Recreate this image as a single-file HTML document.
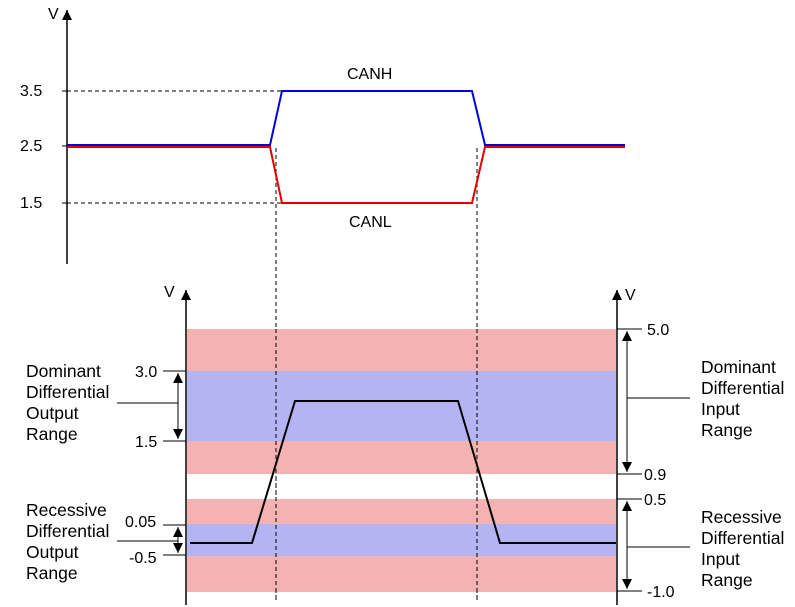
<!DOCTYPE html>
<html><head><style>body{margin:0;background:#fff}svg{display:block}</style></head><body>
<svg width="795" height="607" viewBox="0 0 795 607" xmlns="http://www.w3.org/2000/svg" font-family="Liberation Sans, sans-serif" font-size="16">
<defs>
<marker id="a" markerWidth="10" markerHeight="10" refX="10" refY="5" orient="auto-start-reverse" markerUnits="userSpaceOnUse" viewBox="0 0 10 10"><path d="M0,0 L10,5 L0,10 z" fill="#000"/></marker>
</defs>
<line x1="67" y1="264" x2="67" y2="10" stroke="#000" stroke-width="1.5" marker-end="url(#a)"/>
<text x="48" y="19">V</text>
<g stroke="#000" stroke-dasharray="4,3" stroke-width="1">
<line x1="67" y1="91" x2="282" y2="91"/>
<line x1="67" y1="203" x2="282" y2="203"/>
<line x1="276" y1="148" x2="276" y2="602"/>
<line x1="477" y1="148" x2="477" y2="602"/>
</g>
<g stroke="#000"><line x1="62" y1="91" x2="67" y2="91"/><line x1="62" y1="146" x2="67" y2="146"/><line x1="62" y1="203" x2="67" y2="203"/></g>
<text x="20" y="96">3.5</text><text x="20" y="151">2.5</text><text x="20" y="208">1.5</text>
<polyline points="67,147 270,147 282,203 472,203 485,147 625,147" fill="none" stroke="#e00000" stroke-width="2"/>
<polyline points="67,145 270,145 282,91 472,91 485,145 625,145" fill="none" stroke="#0000e0" stroke-width="2"/>
<text x="347" y="79">CANH</text><text x="349" y="227">CANL</text>
<rect x="187" y="329" width="429" height="42" fill="#f4b2b2"/>
<rect x="187" y="371" width="429" height="70" fill="#b4b4f2"/>
<rect x="187" y="441" width="429" height="33" fill="#f4b2b2"/>
<rect x="187" y="499" width="429" height="25" fill="#f4b2b2"/>
<rect x="187" y="524" width="429" height="32" fill="#b4b4f2"/>
<rect x="187" y="556" width="429" height="36" fill="#f4b2b2"/>
<g stroke="#000" stroke-dasharray="4,3"><line x1="276" y1="329" x2="276" y2="600"/><line x1="477" y1="329" x2="477" y2="600"/></g>
<line x1="186" y1="605" x2="186" y2="290" stroke="#000" stroke-width="1.5" marker-end="url(#a)"/>
<line x1="617" y1="605" x2="617" y2="290" stroke="#000" stroke-width="1.5" marker-end="url(#a)"/>
<text x="164" y="297">V</text><text x="625" y="300">V</text>
<polyline points="190,543 252,543 295,401 458,401 500,543 616,543" fill="none" stroke="#000" stroke-width="2"/>
<g stroke="#000" stroke-width="1">
<line x1="163" y1="371" x2="186" y2="371"/><line x1="163" y1="441" x2="186" y2="441"/>
<line x1="163" y1="525" x2="186" y2="525"/><line x1="163" y1="555" x2="186" y2="555"/>
<line x1="178" y1="373" x2="178" y2="439" marker-start="url(#a)" marker-end="url(#a)"/>
<line x1="178" y1="527" x2="178" y2="553" marker-start="url(#a)" marker-end="url(#a)"/>
<line x1="117" y1="403" x2="178" y2="403"/><line x1="117" y1="541" x2="178" y2="541"/>
<line x1="617" y1="329" x2="642" y2="329"/><line x1="617" y1="474" x2="642" y2="474"/>
<line x1="617" y1="499" x2="642" y2="499"/><line x1="617" y1="591" x2="642" y2="591"/>
<line x1="627" y1="331" x2="627" y2="472" marker-start="url(#a)" marker-end="url(#a)"/>
<line x1="627" y1="501" x2="627" y2="589" marker-start="url(#a)" marker-end="url(#a)"/>
<line x1="627" y1="398" x2="690" y2="398"/><line x1="627" y1="547" x2="690" y2="547"/>
</g>
<text x="135" y="377">3.0</text><text x="135" y="447">1.5</text>
<text x="125" y="527">0.05</text><text x="129" y="563">-0.5</text>
<text x="647" y="335">5.0</text><text x="644" y="480">0.9</text>
<text x="644" y="505">0.5</text><text x="647" y="597">-1.0</text>
<g font-size="17.5">
<text x="26" y="377">Dominant</text><text x="26" y="398">Differential</text><text x="26" y="419">Output</text><text x="26" y="440">Range</text>
<text x="26" y="516">Recessive</text><text x="26" y="537">Differential</text><text x="26" y="558">Output</text><text x="26" y="579">Range</text>
<text x="701" y="373">Dominant</text><text x="701" y="394">Differential</text><text x="701" y="415">Input</text><text x="701" y="436">Range</text>
<text x="701" y="523">Recessive</text><text x="701" y="544">Differential</text><text x="701" y="565">Input</text><text x="701" y="586">Range</text>
</g>
</svg>
</body></html>
